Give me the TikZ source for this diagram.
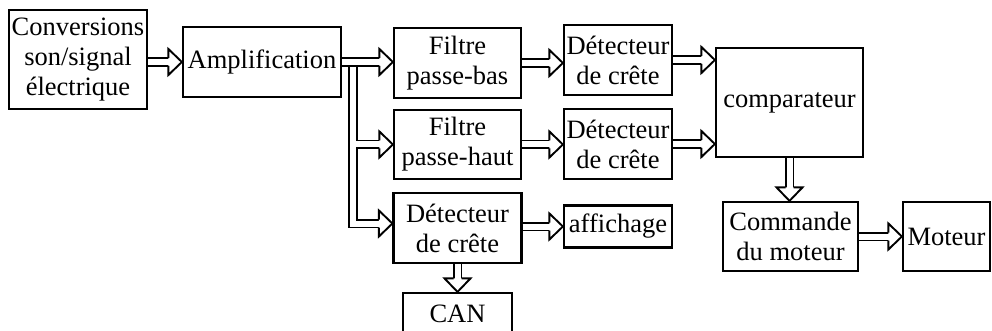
\documentclass[tikz,border=0pt]{standalone}
\usepackage{fontspec}
\setmainfont{Liberation Serif}
\tikzset{
  blk/.style={draw, line width=2.2pt, inner sep=0pt, align=center,
    font=\fontsize{26.5}{30}\selectfont},
  pipe/.style={draw, line width=1.9pt, double=white, double distance=6pt,
    line cap=butt, line join=miter},
  headst/.style={draw, fill=white, line width=1.9pt, line join=miter},
}
\newcommand\rhead[1]{%
  \draw[headst] ([xshift=-13.5pt,yshift=4pt]#1) -- ++(0,9pt) -- (#1)
    -- ([xshift=-13.5pt,yshift=-13pt]#1) -- ++(0,9pt);}
\newcommand\dhead[1]{%
  \draw[headst] ([xshift=-4pt,yshift=13.5pt]#1) -- ++(-9pt,0) -- (#1)
    -- ([xshift=13pt,yshift=13.5pt]#1) -- ++(-9pt,0);}
\newcommand\rarrow[2]{%
  \path (#1) coordinate (ra1) (ra1 -| #2) coordinate (ra2);
  \draw[pipe] (ra1) -- ([xshift=-12.5pt]ra2);
  \rhead{ra2}}
\newcommand\darrow[2]{%
  \path (#1) coordinate (da1) (da1 |- #2) coordinate (da2);
  \draw[pipe] (da1) -- ([yshift=12.5pt]da2);
  \dhead{da2}}
\begin{document}
\begin{tikzpicture}[x=1pt,y=-1pt]
\useasboundingbox (0,0) rectangle (992,331);
\node[blk, minimum width=138pt, minimum height=99pt] (conv) at (78,59.5) {Conversions\\son/signal\\électrique};
\node[blk, minimum width=158pt, minimum height=70pt] (amp) at (262,62) {Amplification};
\node[blk, minimum width=127pt, minimum height=70pt] (fpb) at (457.5,63) {Filtre\\passe-bas};
\node[blk, minimum width=127pt, minimum height=69pt] (fph) at (457.5,144.5) {Filtre\\passe-haut};
\node[blk, minimum width=128pt, minimum height=70pt] (det3) at (457.5,228) {Détecteur\\de crête};
\node[blk, minimum width=108pt, minimum height=70pt] (det1) at (618,60) {Détecteur\\de crête};
\node[blk, minimum width=108pt, minimum height=70pt] (det2) at (618,144) {Détecteur\\de crête};
\node[blk, minimum width=108pt, minimum height=42pt] (aff) at (618,226.5) {affichage};
\node[blk, minimum width=147pt, minimum height=109pt] (comp) at (789.5,102.5) {comparateur};
\node[blk, minimum width=135pt, minimum height=69pt] (comm) at (790.5,236.5) {Commande\\du moteur};
\node[blk, minimum width=87pt, minimum height=69pt] (mot) at (946.5,236.5) {Moteur};
\node[blk, minimum width=109pt, minimum height=42pt] (can) at (457.5,314) {CAN};
% connectors
\rarrow{conv.east |- amp.west}{amp.west}
\rarrow{amp.east}{fpb.west}
\coordinate (vtop) at (353,67);
\coordinate (b1) at (vtop |- fph.west);
\coordinate (b2) at (353,223.5);
\draw[pipe] (vtop) -- (b2) -- ([xshift=-12.5pt]b2 -| det3.west)
  (b1) -- ([xshift=-12.5pt]b1 -| fph.west);
\coordinate (t1) at (b1 -| fph.west);
\coordinate (t2) at (b2 -| det3.west);
\rhead{t1}
\rhead{t2}
\rarrow{fpb.east}{det1.west}
\rarrow{fph.east}{det2.west}
\rarrow{det1.east}{comp.west}
\rarrow{det2.east}{comp.west}
\rarrow{det3.east |- aff.west}{aff.west}
\darrow{comp.south}{comm.north}
\rarrow{comm.east}{mot.west}
\darrow{det3.south}{can.north}
\end{tikzpicture}
\end{document}
